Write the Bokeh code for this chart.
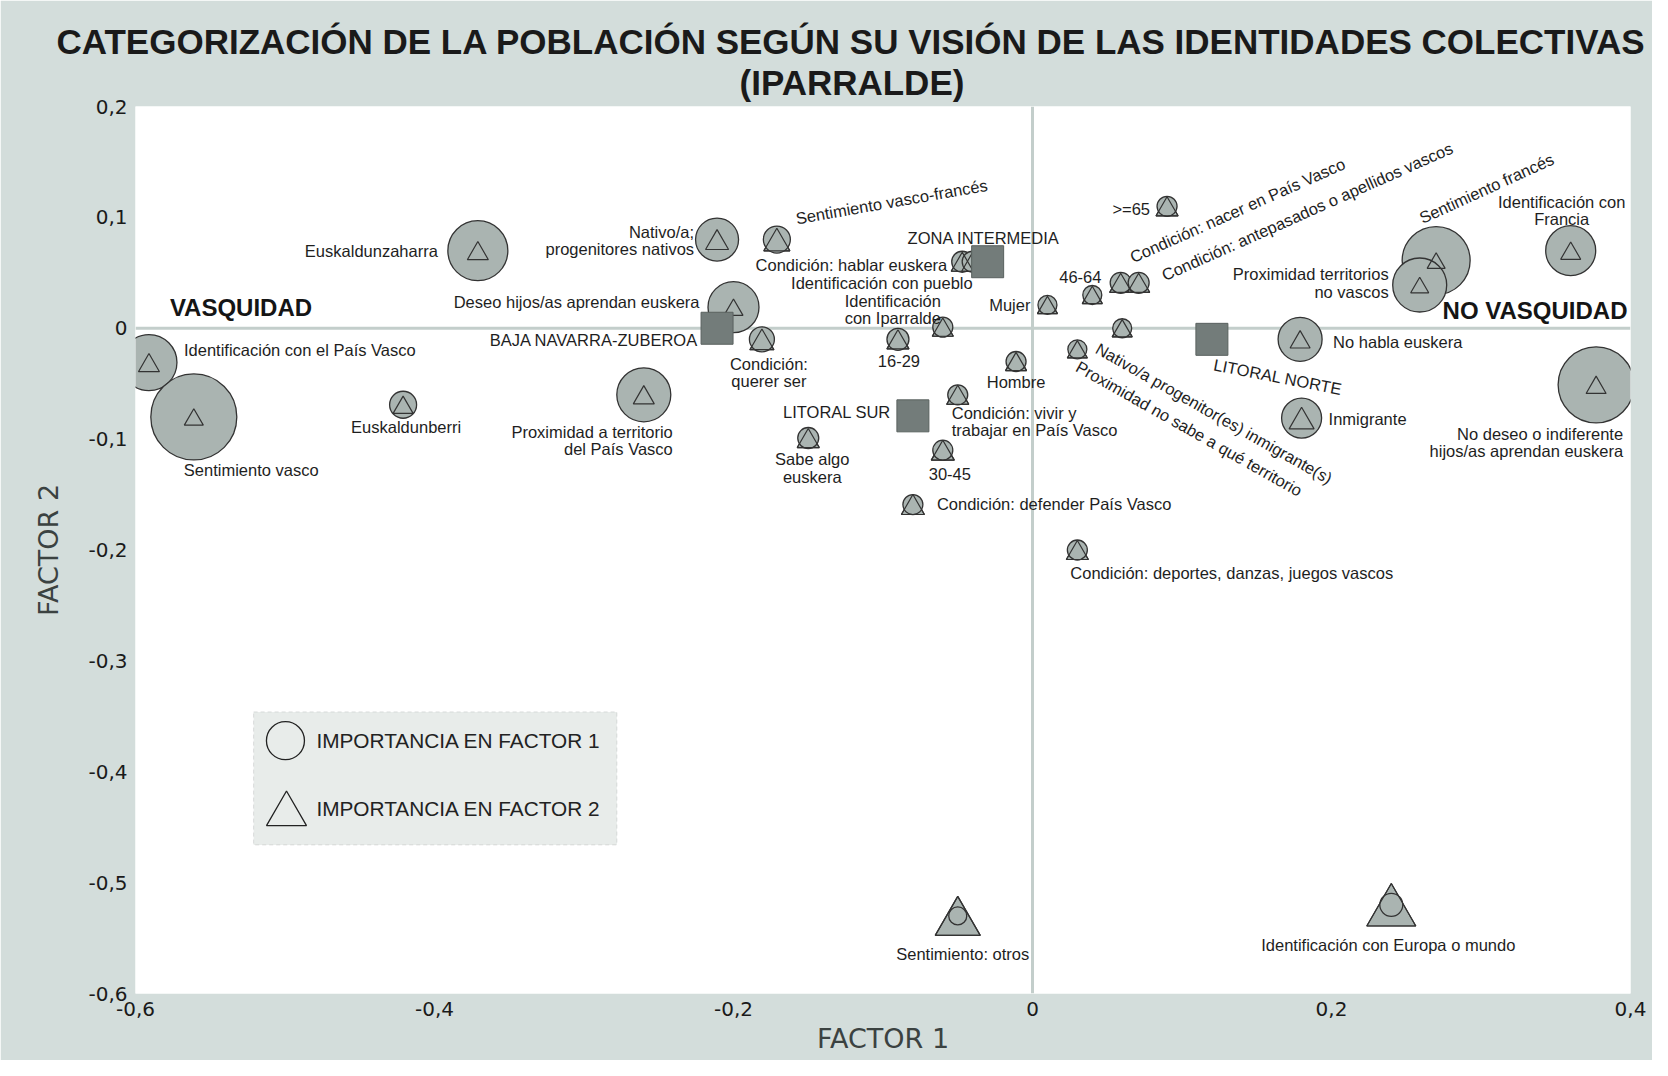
from bokeh.plotting import figure
from bokeh.models import (ColumnDataSource, Span, Label, BoxAnnotation, FixedTicker,
                          CustomJSTickFormatter, Range1d, Title)
from bokeh.embed import file_html
from bokeh.resources import INLINE
from bokeh.core.properties import value

# ---------------- DATA ----------------
categories = [
    "Identificación con el País Vasco",
    "Sentimiento vasco",
    "Euskaldunzaharra",
    "Euskaldunberri",
    "Proximidad a territorio\ndel País Vasco",
    "Nativo/a;\nprogenitores nativos",
    "Deseo hijos/as aprendan euskera",
    "Sentimiento vasco-francés",
    "Condición:\nquerer ser",
    "16-29",
    "Identificación\ncon Iparralde",
    "Condición: hablar euskera",
    "Identificación con pueblo",
    "Condición: vivir y\ntrabajar en País Vasco",
    "Sabe algo\neuskera",
    "30-45",
    "Hombre",
    "Mujer",
    "46-64",
    "Condición: nacer en País Vasco",
    "Condición: antepasados o apellidos vascos",
    ">=65",
    "Nativo/a progenitor(es) inmigrante(s)",
    "Proximidad no sabe a qué territorio",
    "Condición: defender País Vasco",
    "Condición: deportes, danzas, juegos vascos",
    "No habla euskera",
    "Inmigrante",
    "Sentimiento francés",
    "Proximidad territorios\nno vascos",
    "Identificación con\nFrancia",
    "No deseo o indiferente\nhijos/as aprendan euskera",
    "Sentimiento: otros",
    "Identificación con Europa o mundo",
]
factor1 = [-0.591, -0.561, -0.371, -0.421, -0.260, -0.211, -0.200, -0.171, -0.181, -0.090,
           -0.060, -0.047, -0.040, -0.050, -0.150, -0.060, -0.011, 0.010, 0.040, 0.059,
           0.071, 0.090, 0.060, 0.030, -0.080, 0.030, 0.179, 0.180, 0.270, 0.259,
           0.360, 0.377, -0.050, 0.240]
factor2 = [-0.031, -0.080, 0.070, -0.069, -0.060, 0.080, 0.019, 0.080, -0.010, -0.010,
           0.001, 0.060, 0.060, -0.060, -0.099, -0.110, -0.030, 0.021, 0.030, 0.041,
           0.041, 0.110, 0.000, -0.019, -0.159, -0.200, -0.010, -0.081, 0.061, 0.039,
           0.070, -0.051, -0.530, -0.520]
# importance (contribution) of each category in factor 1 (circle) and factor 2 (triangle)
imp_factor1 = [56, 86, 60, 27, 54, 43, 51, 27, 25, 22,
               20, 21, 21, 20, 21, 20, 20, 19, 19, 21,
               21, 20, 19, 19, 20, 20, 44, 40, 68, 54,
               50, 76, 18, 23]
imp_factor2 = [21, 19, 21, 20, 21, 23, 19, 26, 24, 22,
               21, 22, 22, 22, 22, 23, 21, 20, 20, 22,
               22, 22, 20, 20, 23, 22, 20, 25, 18, 18,
               20, 20, 45, 49]

zones = ["BAJA NAVARRA-ZUBEROA", "ZONA INTERMEDIA", "LITORAL SUR", "LITORAL NORTE"]
zone_factor1 = [-0.211, -0.030, -0.080, 0.120]
zone_factor2 = [0.000, 0.060, -0.079, -0.010]

x_ticks = [-0.6, -0.4, -0.2, 0.0, 0.2, 0.4]
y_ticks = [0.2, 0.1, 0.0, -0.1, -0.2, -0.3, -0.4, -0.5, -0.6]

title_lines = ["CATEGORIZACIÓN DE LA POBLACIÓN SEGÚN SU VISIÓN DE LAS IDENTIDADES COLECTIVAS",
               "(IPARRALDE)"]
legend_texts = ["IMPORTANCIA EN FACTOR 1", "IMPORTANCIA EN FACTOR 2"]

# ---------------- LABEL LAYOUT (pixel offsets, screen-down) ----------------
lab_dx = [35, -10, -40, 3, 29, -23, -34, 19, 7, 1,
          -50, -15, 0, -6, 4, 7, 0, -17, -12, 10,
          24, -17, -25, 0, 24, -7, 33, 27, -16, -31,
          -9, 27, 5, -3]
lab_dy = [-13, 53, 0, 22, 46, 1, -5, -21, 33, 22,
          -18, 3, 21, 27, 30, 24, 20, 0, -18, -25,
          -7, 3, 19, 16, -1, 23, 3, 1, -42, -2,
          -40, 58, 38, 40]
lab_align = ["left", "left", "right", "center", "right", "right", "right", "left", "center", "center",
             "center", "right", "right", "left", "center", "center", "center", "right", "center", "left",
             "left", "right", "left", "left", "left", "left", "left", "left", "left", "right",
             "center", "right", "center", "center"]
lab_angle = [0, 0, 0, 0, 0, 0, 0, 10, 0, 0,
             0, 0, 0, 0, 0, 0, 0, 0, 0, 24,
             24, 0, -29.5, -29.5, 0, 0, 0, 0, 24.5, 0,
             0, 0, 0, 0]
zone_dx = [-19, -4, -22, 2]
zone_dy = [12, -24, -4, 25]
zone_align = ["right", "center", "right", "left"]
zone_angle = [0, 0, 0, -11]

# ---------------- FIGURE ----------------
W, H = 1652, 1060
ML, MR, MT, MB = 135, 22, 106, 67
BG = "#d3dddb"
FILL = "#aab4b1"
EDGE = "#333333"
FONT = "Liberation Sans"
TSIZE = "35px"

p = figure(width=W, height=H, x_range=Range1d(-0.6, 0.4), y_range=Range1d(-0.6, 0.2),
           output_backend="svg", toolbar_location=None,
           min_border_left=ML, min_border_right=MR, min_border_top=MT, min_border_bottom=MB,
           background_fill_color="white", border_fill_color=BG, outline_line_color=None)
p.grid.visible = False

# title: two lines (outer = p.title, inner = extra Title), small spacer nearest the frame
p.title.text = title_lines[0]
p.title.align = "left"
p.title.offset = 56 - ML
p.title.standoff = 0
p.title.text_font = FONT
p.title.text_font_style = "bold"
p.title.text_font_size = TSIZE
p.title.text_color = "#1a1a1a"
p.add_layout(Title(text=" ", standoff=0, text_font_size="3px"), "above")
p.add_layout(Title(text=title_lines[1], align="left", offset=739 - ML, standoff=0,
                   text_font=FONT, text_font_style="bold", text_font_size=TSIZE,
                   text_color="#1a1a1a"), "above")

fmt = CustomJSTickFormatter(code="""
if (Math.abs(tick) < 1e-9) { return '0'; }
return tick.toFixed(1).replace('.', ',');
""")
for ax, ticks in ((p.xaxis[0], x_ticks), (p.yaxis[0], y_ticks)):
    ax.ticker = FixedTicker(ticks=ticks)
    ax.formatter = fmt
    ax.axis_line_color = None
    ax.major_tick_line_color = None
    ax.minor_tick_line_color = None
    ax.major_tick_out = 0
    ax.major_tick_in = 0
    ax.minor_tick_out = 0
    ax.minor_tick_in = 0
    ax.major_label_text_font = "DejaVu Sans"
    ax.major_label_text_font_size = "20px"
    ax.major_label_text_color = "#1a1a1a"
    ax.major_label_standoff = 8
    ax.axis_label_text_font = "DejaVu Sans"
    ax.axis_label_text_font_style = "normal"
    ax.axis_label_text_color = "#3b4241"
    ax.axis_label_text_font_size = "27px"

p.xaxis.axis_label = "FACTOR 1"
p.yaxis.axis_label = "FACTOR 2"
p.xaxis.axis_label_standoff = 4
p.yaxis.axis_label_standoff = 21

# zero lines
for dim in ("height", "width"):
    p.add_layout(Span(location=0, dimension=dim, line_color="#c3cecb", line_width=3,
                      level="underlay"))

# pixel -> data conversion for bbox-centred triangles
frame_h = H - MT - MB
ppu_y = frame_h / (0.2 - (-0.6))
tri_y = [y - 0.144 * s / ppu_y for y, s in zip(factor2, imp_factor2)]

src = ColumnDataSource(dict(x=factor1, y=factor2, ty=tri_y, c=imp_factor1, t=imp_factor2))
# filled triangles (under), circles, triangle outlines (over)
p.scatter("x", "ty", size="t", marker="triangle", source=src,
          fill_color=FILL, line_color=EDGE, line_width=1.2)
p.scatter("x", "y", size="c", marker="circle", source=src,
          fill_color=FILL, line_color=EDGE, line_width=1.3)
p.scatter("x", "ty", size="t", marker="triangle", source=src,
          fill_color=None, line_color=EDGE, line_width=1.2)

zsrc = ColumnDataSource(dict(x=zone_factor1, y=zone_factor2))
p.scatter("x", "y", size=32, marker="square", source=zsrc,
          fill_color="#737c7a", line_color="#59615f", line_width=1)

lsrc = ColumnDataSource(dict(x=factor1, y=factor2, text=categories, dx=lab_dx, dy=lab_dy,
                             align=lab_align, angle=lab_angle))
p.text("x", "y", text="text", x_offset="dx", y_offset="dy", text_align="align",
       angle="angle", angle_units="deg", text_baseline="middle", source=lsrc,
       text_font=value(FONT), text_font_size="16.5px", text_color="#1e1e1e",
       text_line_height=0.95)

zlsrc = ColumnDataSource(dict(x=zone_factor1, y=zone_factor2, text=zones, dx=zone_dx,
                              dy=zone_dy, align=zone_align, angle=zone_angle))
p.text("x", "y", text="text", x_offset="dx", y_offset="dy", text_align="align",
       angle="angle", angle_units="deg", text_baseline="middle", source=zlsrc,
       text_font=value(FONT), text_font_size="16.5px", text_color="#1e1e1e")

# region labels
p.add_layout(Label(x=-0.577, y=0.019, text="VASQUIDAD", text_align="left",
                   text_baseline="middle", text_font=FONT, text_font_style="bold",
                   text_font_size="24px", text_color="#151515"))
p.add_layout(Label(x=0.398, y=0.016, text="NO VASQUIDAD", text_align="right",
                   text_baseline="middle", text_font=FONT, text_font_style="bold",
                   text_font_size="24px", text_color="#151515"))

# legend box
p.add_layout(BoxAnnotation(left=-0.521, right=-0.278, top=-0.346, bottom=-0.466,
                           fill_color="#e8ecea", fill_alpha=1, line_color="#9a9f9e",
                           line_dash="4 3", line_width=1, level="underlay"))
leg_y = [-0.372, -0.433]
p.scatter([-0.4997], [leg_y[0]], size=38, marker="circle", fill_color=None,
          line_color="#222222", line_width=1.3)
p.scatter([-0.4990], [leg_y[1] - 0.144 * 40 / ppu_y], size=40, marker="triangle",
          fill_color=None, line_color="#222222", line_width=1.3)
for txt, ly in zip(legend_texts, leg_y):
    p.add_layout(Label(x=-0.479, y=ly, text=txt, text_align="left", text_baseline="middle",
                       text_font=FONT, text_font_size="20.8px", text_color="#222222"))

open("out.html", "w").write(file_html(p, INLINE))
